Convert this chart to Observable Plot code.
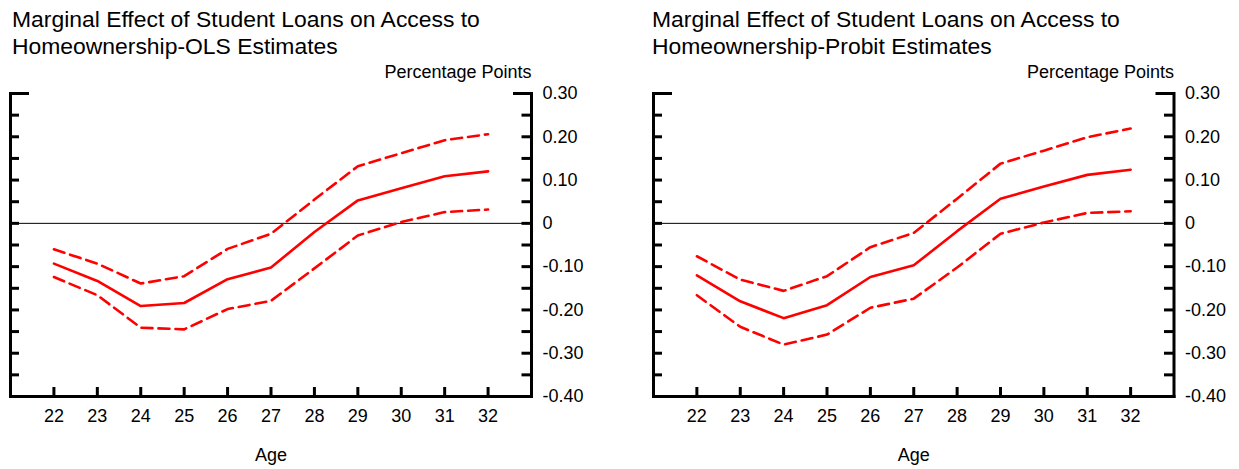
<!DOCTYPE html>
<html><head><meta charset="utf-8">
<script src="https://cdn.jsdelivr.net/npm/d3@7"></script>
<script src="https://cdn.jsdelivr.net/npm/@observablehq/plot@0.6"></script>
<style>
body{margin:0;background:#fff;font-family:"Liberation Sans",Arial,sans-serif;}
#wrap{position:relative;width:1239px;height:469px;overflow:hidden;background:#fff}
.title{position:absolute;font-size:22.9px;line-height:27px;color:#000;white-space:nowrap}
.panel{position:absolute;top:60px}
</style></head><body>
<div id="wrap">
  <div class="title" style="left:12px;top:5.5px">Marginal Effect of Student Loans on Access to<br>Homeownership-OLS Estimates</div>
  <div class="title" style="left:652px;top:5.5px">Marginal Effect of Student Loans on Access to<br>Homeownership-Probit Estimates</div>
  <div class="panel" id="p1" style="left:0px"></div>
  <div class="panel" id="p2" style="left:620px"></div>
</div>
<script>
const ages = [22, 23, 24, 25, 26, 27, 28, 29, 30, 31, 32];

const olsEstimate = [-0.093, -0.133, -0.191, -0.184, -0.129, -0.102, -0.020, 0.053, 0.081, 0.109, 0.120];
const olsUpper    = [-0.060, -0.093, -0.139, -0.122, -0.059, -0.024, 0.055, 0.132, 0.162, 0.192, 0.206];
const olsLower    = [-0.124, -0.166, -0.241, -0.245, -0.198, -0.179, -0.104, -0.028, 0.003, 0.026, 0.032];

const probitEstimate = [-0.120, -0.180, -0.219, -0.189, -0.124, -0.097, -0.018, 0.057, 0.085, 0.112, 0.124];
const probitUpper    = [-0.076, -0.130, -0.156, -0.122, -0.055, -0.022, 0.057, 0.138, 0.168, 0.199, 0.219];
const probitLower    = [-0.166, -0.239, -0.280, -0.257, -0.195, -0.174, -0.102, -0.024, 0.002, 0.024, 0.028];

const yTickValues = [0.30, 0.20, 0.10, 0, -0.10, -0.20, -0.30, -0.40];
const yTickLabels = ["0.30", "0.20", "0.10", "0", "-0.10", "-0.20", "-0.30", "-0.40"];
const yMinorTicks = [0.25, 0.20, 0.15, 0.10, 0.05, 0, -0.05, -0.10, -0.15, -0.20, -0.25, -0.30, -0.35, -0.40];
const yTopTick = [0.30];

const FONT = "Liberation Sans, Arial, sans-serif";
const RED = "#ff0000";
const FS = 18;

function panel(est, up, lo, width, ml, mr) {
  const data = ages.map((a, i) => ({age: a, est: est[i], up: up[i], lo: lo[i]}));
  return Plot.plot({
    width, height: 409,
    marginTop: 33, marginBottom: 73, marginLeft: ml, marginRight: mr,
    style: {fontFamily: FONT, fontSize: FS + "px", color: "#000", background: "#fff", overflow: "visible"},
    x: {domain: [21, 33], axis: null},
    y: {domain: [-0.40, 0.30], axis: null},
    marks: [
      Plot.ruleY([0], {stroke: "#000", strokeWidth: 1}),
      Plot.line(data, {x: "age", y: "up", stroke: RED, strokeWidth: 2.6, strokeDasharray: "11,6"}),
      Plot.line(data, {x: "age", y: "lo", stroke: RED, strokeWidth: 2.6, strokeDasharray: "11,6"}),
      Plot.line(data, {x: "age", y: "est", stroke: RED, strokeWidth: 2.6}),
      Plot.frame({anchor: "left", stroke: "#000", strokeWidth: 3}),
      Plot.frame({anchor: "right", stroke: "#000", strokeWidth: 3}),
      Plot.frame({anchor: "bottom", stroke: "#000", strokeWidth: 3}),
      Plot.axisY(yMinorTicks, {anchor: "left", tickSize: -9, fill: "none", strokeWidth: 3, label: null}),
      Plot.axisY(yMinorTicks, {anchor: "right", tickSize: -10.5, fill: "none", strokeWidth: 3, label: null}),
      Plot.axisY(yTopTick, {anchor: "left", tickSize: -19, fill: "none", strokeWidth: 3, label: null}),
      Plot.axisY(yTopTick, {anchor: "right", tickSize: -19, fill: "none", strokeWidth: 3, label: null}),
      Plot.axisY(yTickValues, {anchor: "right", tickSize: 0, tickPadding: 11, stroke: "none", fill: "#000", label: null,
        fontSize: FS, textAnchor: "start", tickFormat: d => yTickLabels[yTickValues.indexOf(d)]}),
      Plot.axisX(ages, {anchor: "bottom", tickSize: -9, fill: "none", strokeWidth: 3, label: null}),
      Plot.axisX(ages, {anchor: "bottom", tickSize: 0, tickPadding: 13, stroke: "none", fill: "#000", label: null,
        fontSize: FS, tickFormat: d => String(d)}),
      Plot.text(["Percentage Points"], {frameAnchor: "top-right", dy: -21, textAnchor: "end", lineAnchor: "middle", fontSize: FS, fill: "#000"}),
      Plot.text(["Age"], {frameAnchor: "bottom", dy: 59, textAnchor: "middle", lineAnchor: "middle", fontSize: FS, fill: "#000"})
    ]
  });
}

document.getElementById("p1").appendChild(panel(olsEstimate, olsUpper, olsLower, 620, 10, 89));
document.getElementById("p2").appendChild(panel(probitEstimate, probitUpper, probitLower, 619, 33, 65.5));
</script>
</body></html>
